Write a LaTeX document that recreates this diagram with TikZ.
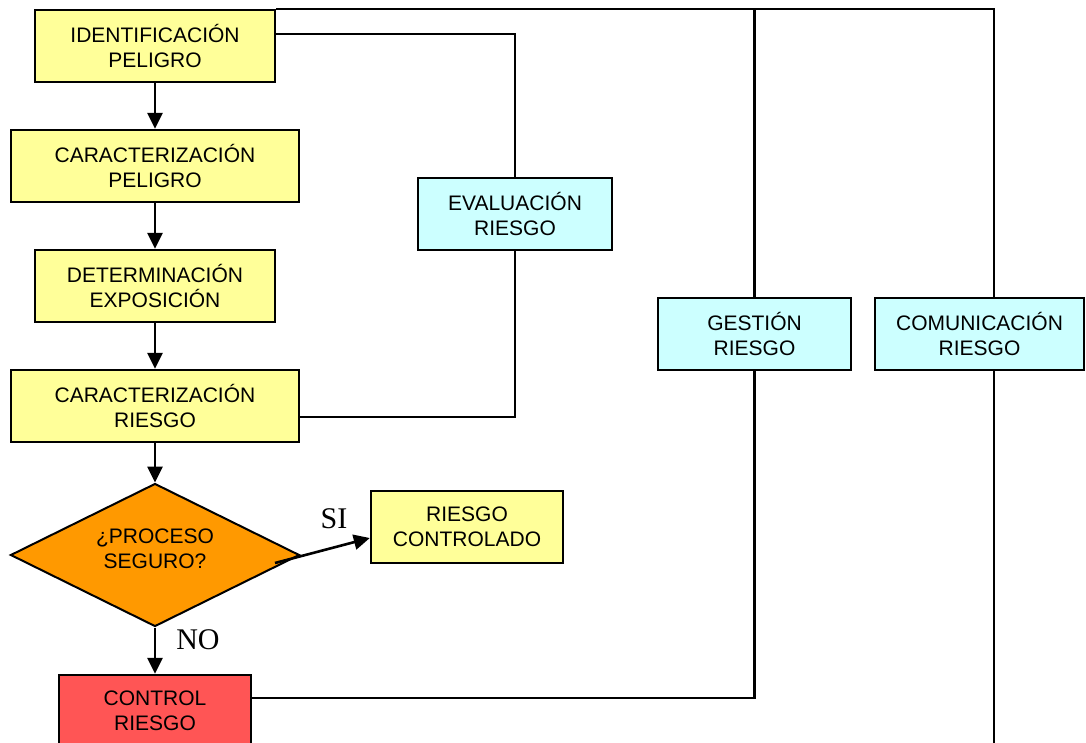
\documentclass[tikz,border=0pt]{standalone}
\usepackage{fontspec}
\setmainfont{Liberation Sans}
\newfontfamily\labelfont{Liberation Serif}
\usetikzlibrary{shapes.geometric,arrows.meta}

\definecolor{stepyellow}{HTML}{FFFF99}
\definecolor{stepcyan}{HTML}{CCFFFF}
\definecolor{steporange}{HTML}{FF9900}
\definecolor{stepred}{HTML}{FF5555}

\tikzset{
  box/.style={draw=black, line width=2.4pt, rectangle, inner sep=0pt,
    minimum height=72pt, align=center, font=\fontsize{21}{25}\selectfont},
  yellowbox/.style={box, fill=stepyellow},
  cyanbox/.style={box, fill=stepcyan},
  redbox/.style={box, fill=stepred},
  decision/.style={draw=black, line width=2pt, diamond, aspect=2, inner sep=0pt,
    fill=steporange, minimum width=289pt, minimum height=143pt},
  flow/.style={line width=2.6pt, -{Triangle[length=16pt,width=15pt]}},
  wire/.style={line width=2.2pt},
  answer/.style={font=\labelfont\fontsize{30}{32}\selectfont, inner sep=0pt}
}

\begin{document}
\begin{tikzpicture}[x=1pt, y=-1pt]
  \useasboundingbox (0,0) rectangle (1086,742);
  \clip (0,0) rectangle (1086,742);

  % main chain
  \node[yellowbox, minimum width=240pt] (id)   at (155,46)  {IDENTIFICACIÓN\\PELIGRO};
  \node[yellowbox, minimum width=288pt] (cp)   at (155,166) {CARACTERIZACIÓN\\PELIGRO};
  \node[yellowbox, minimum width=240pt] (de)   at (155,286) {DETERMINACIÓN\\EXPOSICIÓN};
  \node[yellowbox, minimum width=288pt] (cr)   at (155,406) {CARACTERIZACIÓN\\RIESGO};
  \node[decision,
        label={[align=center, yshift=6.5pt, font=\fontsize{21}{25}\selectfont]center:¿PROCESO\\SEGURO?}]
        (ps) at (155,555) {};
  \node[yellowbox, minimum width=192pt] (rc)   at (467,527) {RIESGO\\CONTROLADO};
  \node[redbox,    minimum width=192pt] (ctrl) at (155,711) {CONTROL\\RIESGO};

  % side stages
  \node[cyanbox, minimum width=194pt] (ev)   at (515,214)   {EVALUACIÓN\\RIESGO};
  \node[cyanbox, minimum width=193pt] (gest) at (754.5,334) {GESTIÓN\\RIESGO};
  \node[cyanbox, minimum width=209pt] (com)  at (979.5,334) {COMUNICACIÓN\\RIESGO};

  % decision labels
  \node[answer] (si) at (334,519) {SI};
  \node[answer] (no) at (198,640) {NO};

  % helper points
  \coordinate (topR) at (id.north east -| 994,0);
  \coordinate (siStart) at (275,563);
  \coordinate (comEnd) at (994,760);

  % arrows of the main chain
  \draw[flow] (id) -- (cp);
  \draw[flow] (cp) -- (de);
  \draw[flow] (de) -- (cr);
  \draw[flow] (cr.south) -- (ps.north);
  \draw[flow] (ps.south) -- (ctrl.north);
  \draw[flow] (siStart) -- ([yshift=-11pt]rc.west);

  % evaluation bracket
  \draw[wire] ([yshift=12pt]id.east) -| (ev.north);
  \draw[wire] (ev.south) |- ([yshift=-11pt]cr.east);

  % management and communication lines
  \draw[wire] (id.north east) -- (topR) -- (topR |- com.north);
  \draw[wire] (gest.north) -- (gest.north |- topR);
  \draw[wire] (gest.south) |- ([yshift=13pt]ctrl.east);
  \draw[wire] (com.south -| topR) -- (comEnd);
\end{tikzpicture}
\end{document}
